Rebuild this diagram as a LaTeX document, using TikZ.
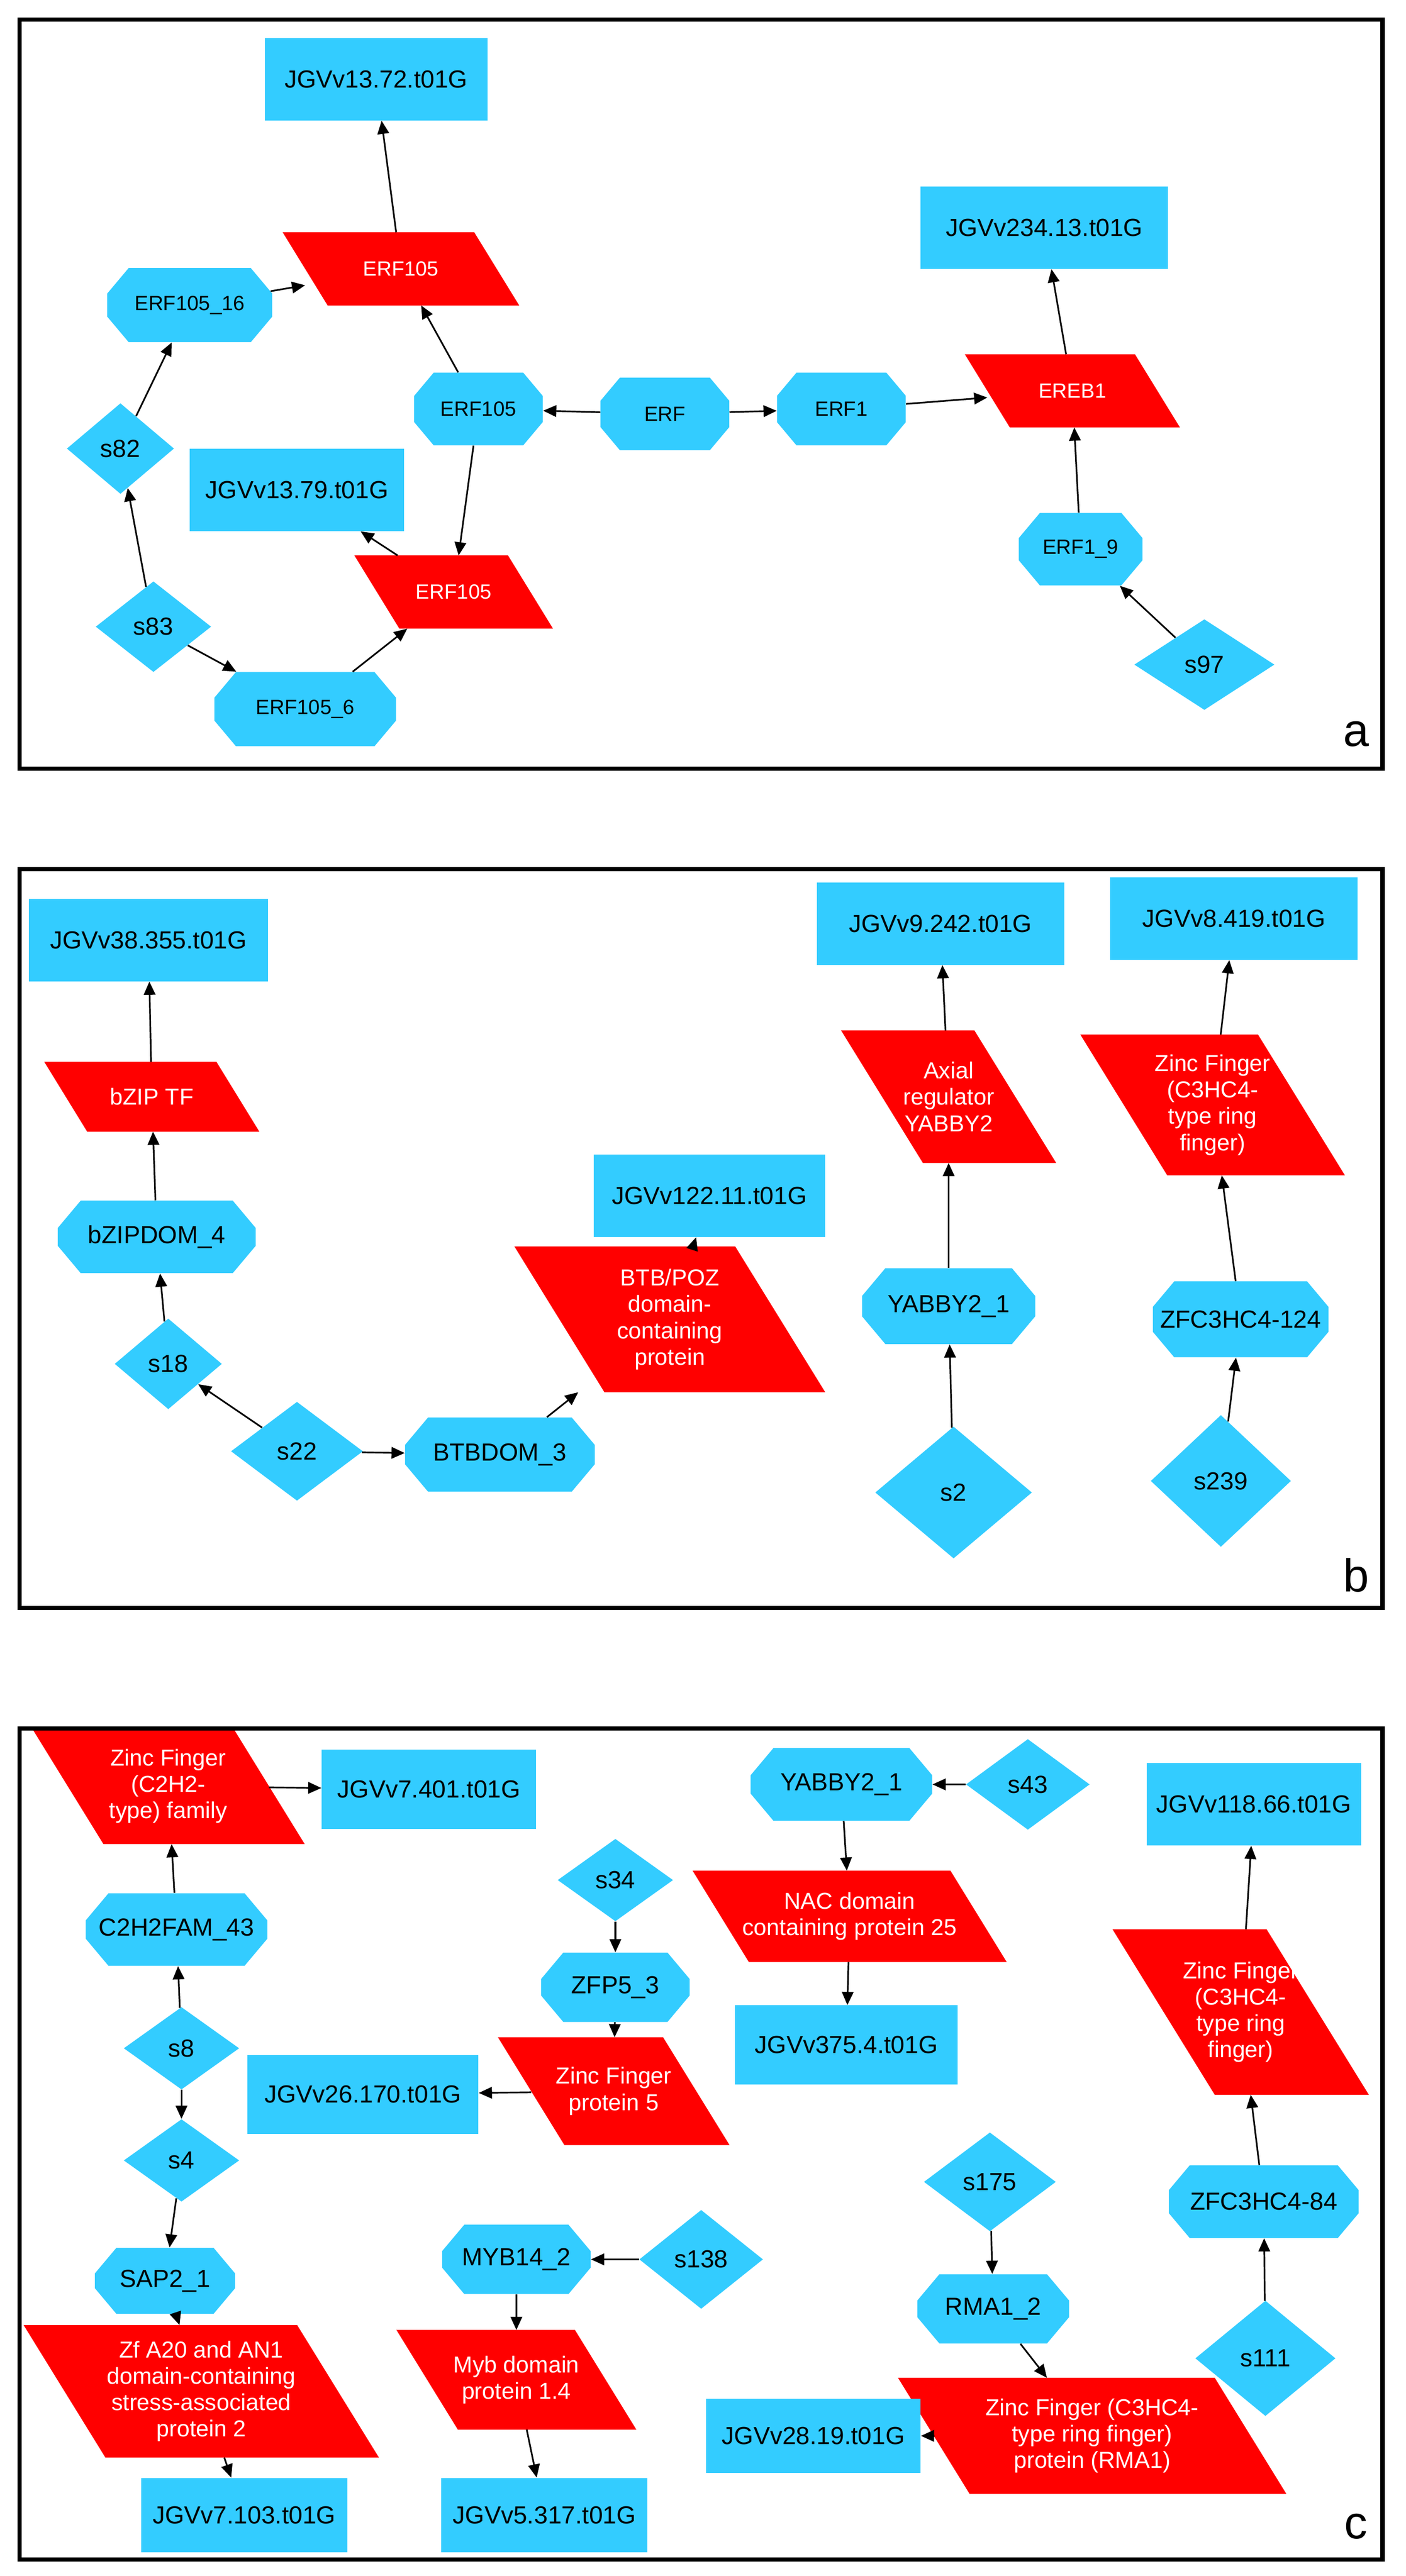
\documentclass[tikz,border=0pt]{standalone}
\usepackage{fontspec}
\setmainfont{Liberation Sans}
\usetikzlibrary{shapes.geometric,shapes.misc,arrows.meta,calc,backgrounds}
\definecolor{cy}{HTML}{33CCFF}
\definecolor{rd}{HTML}{FF0000}
\newcommand\pn[6][]{%
 \node[pbase,#1,minimum width={#4-0.62*#5},minimum height=#5] (#2) at (#3) {#6};
 \begin{scope}[on background layer]
 \fill[rd] ($(#2.north west)+(-0.31*#5,0)$) -- ($(#2.north east)+(-0.31*#5,0)$) -- ($(#2.south east)+(0.31*#5,0)$) -- ($(#2.south west)+(0.31*#5,0)$) -- cycle;
 \end{scope}}
\begin{document}
\begin{tikzpicture}[x=1pt,y=-1pt,
 base/.style={inner sep=0pt,align=center,font=\fontsize{15}{17}\selectfont},
 rect/.style={base,rectangle,fill=cy,minimum width=#1,minimum height=50},
 oct/.style 2 args={base,chamfered rectangle,chamfered rectangle angle=40,chamfered rectangle sep=#2*0.22,fill=cy,minimum width=#1,minimum height=#2},
 dia/.style 2 args={base,diamond,fill=cy,minimum width=#1,minimum height=#2},
 pbase/.style={base,rectangle,text=white,font=\fontsize{14}{16}\selectfont},
 sm/.style={font=\fontsize{12.5}{14}\selectfont},
 e/.style={-{Triangle[length=8pt,width=7pt]},line width=1pt},
 frame/.style={line width=2.5pt}]
\useasboundingbox (0,0) rectangle (852,1562);
\draw[frame] (12,12) rectangle (838,466);
\draw[frame] (12,527) rectangle (838,975);
\draw[frame] (12,1048) rectangle (838,1552);
\node[font=\fontsize{28}{30}\selectfont] (la) at (822,445) {a};
\node[font=\fontsize{28}{30}\selectfont] (lb) at (822,955) {b};
\node[font=\fontsize{28}{30}\selectfont] (lc) at (822,1532) {c};
% panel a
\node[rect=135] (a1) at (228,48) {JGVv13.72.t01G};
\pn[sm]{a2}{243,163}{143}{44}{ERF105}
\node[oct={100}{45},sm] (a3) at (115,185) {ERF105\_16};
\node[dia={65}{55}] (a4) at (73,272) {s82};
\node[oct={78}{44},sm] (a5) at (290,248) {ERF105};
\node[oct={78}{44},sm] (a6) at (403,251) {ERF};
\node[oct={78}{44},sm] (a7) at (510,248) {ERF1};
\node[rect=130] (a8) at (180,297) {JGVv13.79.t01G};
\pn[sm]{a9}{275,359}{120}{44}{ERF105}
\node[dia={70}{55}] (a10) at (93,380) {s83};
\node[oct={110}{45},sm] (a11) at (185,430) {ERF105\_6};
\node[rect=150] (a12) at (633,138) {JGVv234.13.t01G};
\pn[sm]{a13}{650,237}{130}{44}{EREB1}
\node[oct={75}{44},sm] (a14) at (655,333) {ERF1\_9};
\node[dia={85}{55}] (a15) at (730,403) {s97};
\draw[e] (a2) -- (a1);
\draw[e] (a3) -- (a2);
\draw[e] (a4) -- (a3);
\draw[e] (a10) -- (a4);
\draw[e] (a10) -- (a11);
\draw[e] (a11) -- (a9);
\draw[e] (a5) -- (a2);
\draw[e] (a5) -- (a9);
\draw[e] (a6) -- (a5);
\draw[e] (a6) -- (a7);
\draw[e] (a7) -- (a13);
\draw[e] (a9) -- (a8);
\draw[e] (a13) -- (a12);
\draw[e] (a14) -- (a13);
\draw[e] (a15) -- (a14);
% panel b
\node[rect=145] (b1) at (90,570) {JGVv38.355.t01G};
\pn{b2}{92,665}{130}{42}{bZIP TF}
\node[oct={120}{44}] (b3) at (95,750) {bZIPDOM\_4};
\node[dia={65}{55}] (b4) at (102,827) {s18};
\node[dia={80}{60}] (b5) at (180,880) {s22};
\node[oct={115}{45}] (b6) at (303,882) {BTBDOM\_3};
\pn{b7}{406,800}{188}{88}{BTB/POZ\\domain-\\containing\\protein}
\node[rect=140] (b8) at (430,725) {JGVv122.11.t01G};
\node[rect=150] (b9) at (570,560) {JGVv9.242.t01G};
\pn{b10}{575,665}{130}{80}{Axial\\regulator\\YABBY2}
\node[oct={105}{46}] (b11) at (575,792) {YABBY2\_1};
\node[dia={95}{80}] (b12) at (578,905) {s2};
\node[rect=150] (b13) at (748,557) {JGVv8.419.t01G};
\pn{b14}{735,670}{160}{85}{Zinc Finger\\(C3HC4-\\type ring\\finger)}
\node[oct={105}{46}] (b15) at (752,800) {ZFC3HC4-124};
\node[dia={85}{80}] (b16) at (740,898) {s239};
\draw[e] (b2) -- (b1);
\draw[e] (b3) -- (b2);
\draw[e] (b4) -- (b3);
\draw[e] (b5) -- (b4);
\draw[e] (b5) -- (b6);
\draw[e] (b6) -- (b7);
\draw[e] (b7) -- (b8);
\draw[e] (b10) -- (b9);
\draw[e] (b11) -- (b10);
\draw[e] (b12) -- (b11);
\draw[e] (b14) -- (b13);
\draw[e] (b15) -- (b14);
\draw[e] (b16) -- (b15);
% panel c
\pn{c1}{102,1083}{165}{70}{Zinc Finger\\(C2H2-\\type) family}
\node[rect=130,minimum height=48] (c2) at (260,1085) {JGVv7.401.t01G};
\node[oct={110}{44}] (c3) at (107,1170) {C2H2FAM\_43};
\node[dia={70}{50}] (c4) at (110,1242) {s8};
\node[dia={70}{50}] (c5) at (110,1310) {s4};
\node[oct={85}{40}] (c6) at (100,1383) {SAP2\_1};
\pn{c7}{122,1450}{215}{80}{Zf A20 and AN1\\domain-containing\\stress-associated\\protein 2}
\node[rect=125,minimum height=45] (c8) at (148,1525) {JGVv7.103.t01G};
\node[dia={70}{50}] (c9) at (373,1140) {s34};
\node[oct={90}{42}] (c10) at (373,1205) {ZFP5\_3};
\pn{c11}{372,1268}{140}{65}{Zinc Finger\\protein 5}
\node[rect=140,minimum height=48] (c12) at (220,1270) {JGVv26.170.t01G};
\node[oct={90}{42}] (c13) at (313,1370) {MYB14\_2};
\node[dia={75}{60}] (c14) at (425,1370) {s138};
\pn{c15}{313,1443}{145}{60}{Myb domain\\protein 1.4}
\node[rect=125,minimum height=45] (c16) at (330,1525) {JGVv5.317.t01G};
\node[oct={110}{44}] (c17) at (510,1082) {YABBY2\_1};
\node[dia={75}{55}] (c18) at (623,1082) {s43};
\pn{c19}{515,1162}{190}{55}{NAC domain\\containing protein 25}
\node[rect=135,minimum height=48] (c20) at (513,1240) {JGVv375.4.t01G};
\node[dia={80}{60}] (c21) at (600,1323) {s175};
\node[oct={92}{42}] (c22) at (602,1400) {RMA1\_2};
\pn{c23}{662,1477}{235}{70}{Zinc Finger (C3HC4-\\type ring finger)\\protein (RMA1)}
\node[rect=130,minimum height=45] (c24) at (493,1477) {JGVv28.19.t01G};
\node[rect=130] (c25) at (760,1094) {JGVv118.66.t01G};
\pn{c26}{752,1220}{155}{100}{Zinc Finger\\(C3HC4-\\type ring\\finger)}
\node[oct={115}{44}] (c27) at (766,1335) {ZFC3HC4-84};
\node[dia={85}{70}] (c28) at (767,1430) {s111};
\draw[e] (c1) -- (c2);
\draw[e] (c3) -- (c1);
\draw[e] (c4) -- (c3);
\draw[e] (c4) -- (c5);
\draw[e] (c5) -- (c6);
\draw[e] (c6) -- (c7);
\draw[e] (c7) -- (c8);
\draw[e] (c9) -- (c10);
\draw[e] (c10) -- (c11);
\draw[e] (c11) -- (c12);
\draw[e] (c14) -- (c13);
\draw[e] (c13) -- (c15);
\draw[e] (c15) -- (c16);
\draw[e] (c18) -- (c17);
\draw[e] (c17) -- (c19);
\draw[e] (c19) -- (c20);
\draw[e] (c21) -- (c22);
\draw[e] (c22) -- (c23);
\draw[e] (c23) -- (c24);
\draw[e] (c27) -- (c26);
\draw[e] (c26) -- (c25);
\draw[e] (c28) -- (c27);
\end{tikzpicture}
\end{document}
